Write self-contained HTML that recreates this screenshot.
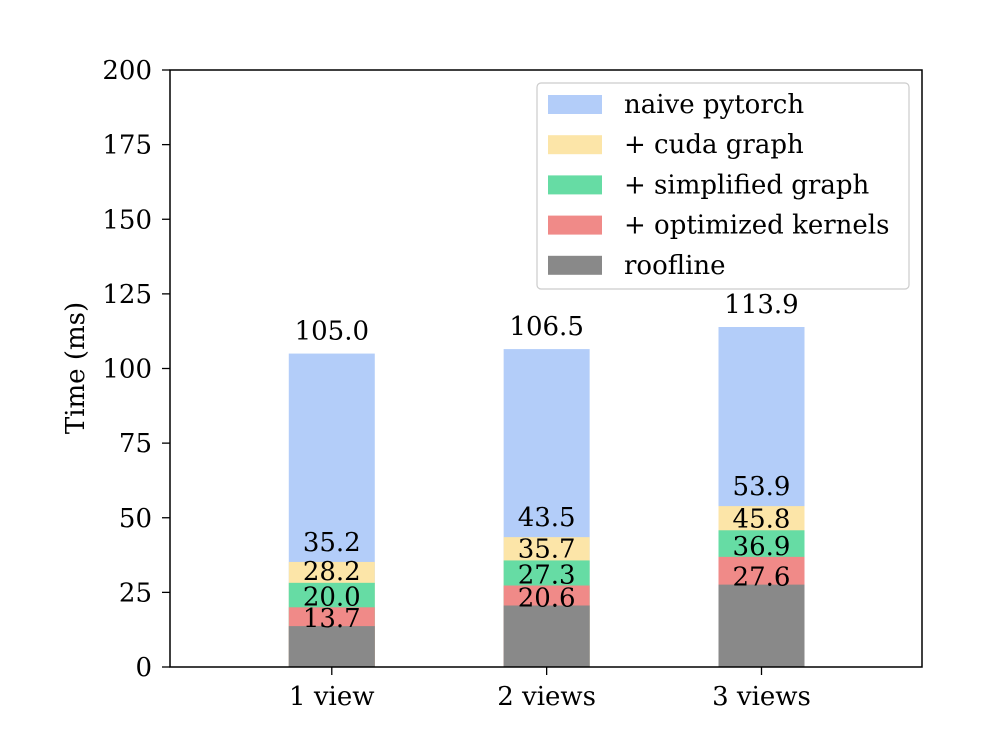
<!DOCTYPE html>
<html><head><meta charset="utf-8"><style>
body{margin:0;background:#fff;}
svg text{font-family:"DejaVu Serif","Liberation Serif",serif;fill:#000;}
</style></head><body>
<svg id="chart" width="1000" height="730" xmlns="http://www.w3.org/2000/svg"></svg>
<script>
const categories=["1 view","2 views","3 views"];
const seriesNames=["naive pytorch","+ cuda graph","+ simplified graph","+ optimized kernels","roofline"];
const naive=[105.0,106.5,113.9];
const cuda=[35.2,43.5,53.9];
const simplified=[28.2,35.7,45.8];
const kernels=[20.0,27.3,36.9];
const roofline=[13.7,20.6,27.6];
const yTicks=[0,25,50,75,100,125,150,175,200];

const colors=["#b3cdf9","#fce5a8","#66dca4","#f08a88","#898989"];
const labelOff=[14,11,3,2,-1];
const series=[naive,cuda,simplified,kernels,roofline];
const svg=document.getElementById('chart');
const NS="http://www.w3.org/2000/svg";
const L=170,R=922,T=70,B=667;
const y=v=>B-(v/200)*(B-T);
const x=i=>L+(i+0.753)*(R-L)/3.5;
const bw=86;
const FS=26;
function mk(t,a,p){const e=document.createElementNS(NS,t);for(const k in a)e.setAttribute(k,a[k]);(p||svg).appendChild(e);return e;}
series.forEach((s,si)=>{
  s.forEach((v,i)=>{
    const r=mk('rect',{x:x(i)-bw/2,y:y(v),width:bw,height:B-y(v),fill:colors[si]});
    
    
  });
});
series.forEach((s,si)=>{
  s.forEach((v,i)=>{
    const t=mk('text',{x:x(i),y:y(v)-labelOff[si],'text-anchor':'middle','font-size':FS});
    t.textContent=v.toFixed(1);
    
    
  });
});
const ax=mk('rect',{x:L,y:T,width:R-L,height:B-T,fill:'none',stroke:'#000','stroke-width':1.5});


yTicks.forEach(v=>{
  mk('line',{x1:L-8,x2:L,y1:y(v),y2:y(v),stroke:'#000','stroke-width':1.3});
  const t=mk('text',{x:L-18,y:y(v)+9,'text-anchor':'end','font-size':FS});
  t.textContent=v;
  
  
});
categories.forEach((c,i)=>{
  mk('line',{x1:x(i),x2:x(i),y1:B,y2:B+8,stroke:'#000','stroke-width':1.3});
  const t=mk('text',{x:x(i),y:705,'text-anchor':'middle','font-size':FS});
  t.textContent=c;
  
  
});
const yt=mk('text',{x:0,y:0,'text-anchor':'middle','font-size':FS,transform:'translate(84,368) rotate(-90)'});
yt.textContent='Time (ms)';


const lg=mk('g',{});


mk('rect',{x:537,y:83,width:372,height:206,rx:4,fill:'#fff','fill-opacity':0.85,stroke:'#ccc','stroke-width':1.2},lg);
seriesNames.forEach((n,i)=>{
  const cy=104+i*40.2;
  const sw=mk('rect',{x:548,y:cy-9,width:54,height:19,fill:colors[i]},lg);
  
  
  const t=mk('text',{x:624,y:cy+9,'font-size':FS},lg);
  t.textContent=n;
  
  
});
</script>
</body></html>
